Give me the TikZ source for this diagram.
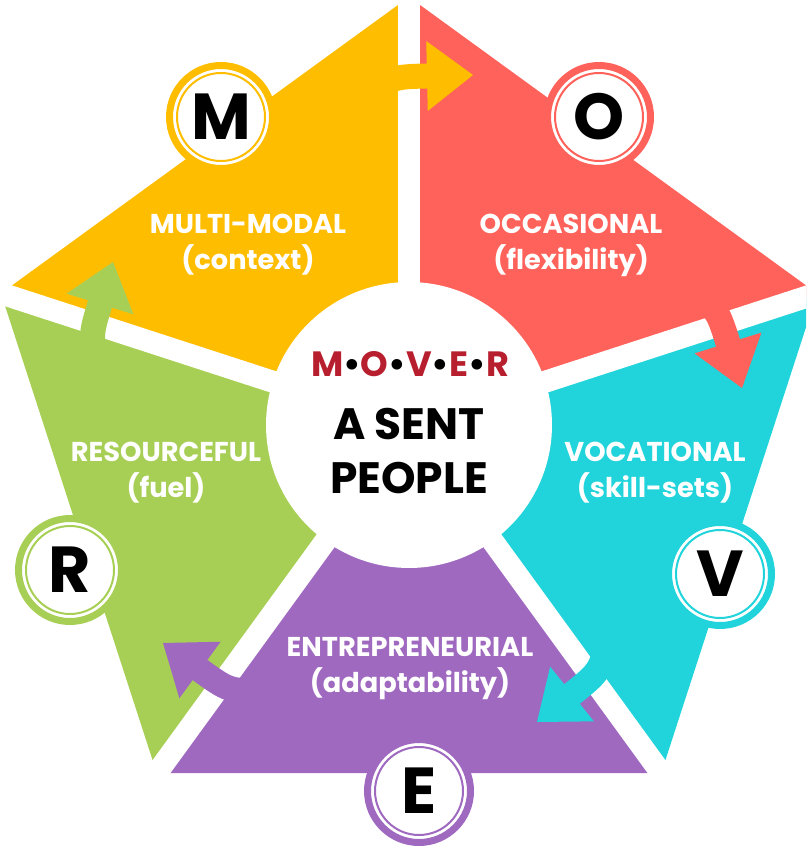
\documentclass[tikz,border=0pt]{standalone}
\usepackage{fontspec}
\setmainfont{Poppins}
\usetikzlibrary{calc}

\definecolor{movyellow}{HTML}{FFBD00}
\definecolor{movred}{HTML}{FF625A}
\definecolor{movcyan}{HTML}{21D4DB}
\definecolor{movpurple}{HTML}{9F69BF}
\definecolor{movgreen}{HTML}{A8CF55}
\definecolor{moverred}{HTML}{B71F2E}

% curved band plus a triangular head: colour, start, base of head, tip
\newcommand{\bendarrow}[4]{
	\draw[line width=0.5cm, color=#1] (#2) .. controls ($(#3)!-0.8!(#4)$) .. ($(#3)!0.1!(#4)$);
	\fill[#1] (#4) -- ($(#3)!0.7cm!90:(#4)$) -- ($(#3)!0.7cm!-90:(#4)$) -- cycle;
}

% ringed letter badge: name, colour, position, letter
\newcommand{\lettercircle}[4]{
	\node[lettercirc, draw=#2] (#1) at (#3) {#4};
	\draw[color=#2, line width=0.04cm] (#1.center) circle[radius=0.88cm];
}

\newcommand{\moverdot}{{\color{black}\textbullet}}
\newcommand{\moverword}{\textcolor{moverred}{M}\moverdot\textcolor{moverred}{O}\moverdot\textcolor{moverred}{V}\moverdot\textcolor{moverred}{E}\moverdot\textcolor{moverred}{R}}

\tikzset{
	gapline/.style={white, line width=0.44cm},
	lettercirc/.style={circle, fill=white, line width=0.14cm, minimum size=2.06cm, inner sep=0pt, font=\fontsize{37}{37}\selectfont\bfseries},
	petal label/.style={text=white, align=center, font=\fontsize{15.5}{20.5}\selectfont\bfseries},
	hub text/.style={align=center, font=\fontsize{25}{30.7}\selectfont\bfseries}
}

\begin{document}
\begin{tikzpicture}[x=0.02cm, y=-0.02cm]
	\useasboundingbox (0,0) rectangle (806,847);
	\clip (0,0) rectangle (806,847);

	% pentagon corners
	\coordinate (C) at (409,426);
	\coordinate (pTop) at (409,-3);
	\coordinate (pLeft) at (1,293.4);
	\coordinate (pRight) at (817,293.4);
	\coordinate (pBotL) at (156.8,773.1);
	\coordinate (pBotR) at (661.2,773.1);

	% the five pieces
	\fill[movyellow] (C) -- (pTop) -- (pLeft) -- cycle;
	\fill[movred] (C) -- (pTop) -- (pRight) -- cycle;
	\fill[movcyan] (C) -- (pRight) -- (pBotR) -- cycle;
	\fill[movpurple] (C) -- (pBotR) -- (pBotL) -- cycle;
	\fill[movgreen] (C) -- (pBotL) -- (pLeft) -- cycle;

	\foreach \v in {pTop,pLeft,pBotL,pBotR,pRight}
		\draw[gapline] (C) -- ($(C)!1.05!(\v)$);

	% arrows across the gaps
	\bendarrow{movyellow}{370,100}{427,76}{473,75}
	\bendarrow{movred}{690,298}{728,343}{742,388}
	\bendarrow{movcyan}{608,640}{572,694}{537,722}
	\bendarrow{movpurple}{265,690}{200,670}{163,643}
	\bendarrow{movgreen}{102,370}{100,304}{113,262}

	% hub
	\node[circle, fill=white, minimum size=5.72cm, inner sep=0pt] (hub) at (409,425) {};
	\node[font=\fontsize{20}{20}\selectfont\bfseries] (mover) at (410,364) {\moverword};
	\node[hub text] (sent) at (409,451) {A SENT\\PEOPLE};

	% badges
	\lettercircle{badgeM}{movyellow}{221,117}{M}
	\lettercircle{badgeO}{movred}{599,117}{O}
	\lettercircle{badgeV}{movcyan}{720,574}{V}
	\lettercircle{badgeE}{movpurple}{419,791}{E}
	\lettercircle{badgeR}{movgreen}{70,570}{R}

	% labels
	\node[petal label] (multi) at (248,245) {MULTI-MODAL\\(context)};
	\node[petal label] (occas) at (571,245) {OCCASIONAL\\(flexibility)};
	\node[petal label] (vocat) at (655,473) {VOCATIONAL\\(skill-sets)};
	\node[petal label] (entre) at (410,669) {ENTREPRENEURIAL\\(adaptability)};
	\node[petal label] (resou) at (166,473) {RESOURCEFUL\\(fuel)};
\end{tikzpicture}
\end{document}
